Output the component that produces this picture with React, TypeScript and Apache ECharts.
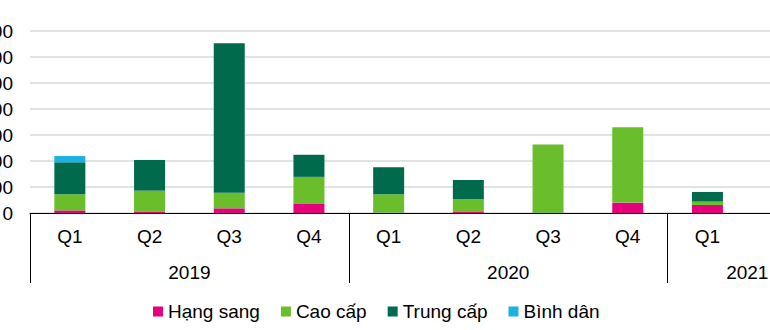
import React, { useEffect, useRef } from "react";
import * as echarts from "echarts";

const quarters = ["Q1", "Q2", "Q3", "Q4", "Q1", "Q2", "Q3", "Q4", "Q1", "Q2"];
const yearLabels: Record<number, string> = { 2: "2019", 6: "2020", 9: "2021" };
const hangSang = [100, 60, 180, 370, 10, 40, 0, 400, 310, 0];
const caoCap = [620, 800, 600, 1020, 710, 490, 2630, 2900, 130, 0];
const trungCap = [1230, 1180, 5750, 850, 1040, 740, 0, 0, 370, 0];
const binhDan = [240, 0, 0, 0, 0, 0, 0, 0, 0, 0];
const yTicks = { min: 0, max: 7000, interval: 1000 };

const FONT = "Arial, 'Liberation Sans', sans-serif";

export default function App() {
  const ref = useRef<HTMLDivElement>(null);
  useEffect(() => {
    if (!ref.current) return;
    const chart = echarts.init(ref.current, undefined, { renderer: "svg" });
    const seriesDefs = [
      { name: "Hạng sang", data: hangSang, color: "#E6007E" },
      { name: "Cao cấp", data: caoCap, color: "#6ABD2B" },
      { name: "Trung cấp", data: trungCap, color: "#006B4C" },
      { name: "Bình dân", data: binhDan, color: "#1BB1E0" },
    ];
    chart.setOption({
      animation: false,
      grid: { left: 30, top: 31, bottom: 117, right: -57, outerBoundsMode: "none", containLabel: false },
      legend: {
        left: 148,
        top: 297,
        itemWidth: 10,
        itemHeight: 10,
        itemGap: 21,
        icon: "rect",
        textStyle: { fontSize: 19, fontFamily: FONT, color: "#000" },
        data: seriesDefs.map((s) => s.name),
      },
      xAxis: [
        {
          type: "category",
          data: quarters,
          axisTick: { show: false },
          axisLine: { lineStyle: { color: "#000", width: 1 } },
          axisLabel: { fontSize: 19, fontFamily: FONT, color: "#000", margin: 14, interval: 0 },
        },
        {
          type: "value",
          min: 0,
          max: 10,
          interval: 4,
          position: "bottom",
          axisLine: { show: false },
          splitLine: { show: false },
          axisTick: { show: true, length: 70, lineStyle: { color: "#000", width: 1 } },
          axisLabel: { show: false },
        },
        {
          type: "value",
          min: 0,
          max: 10,
          interval: 1,
          position: "bottom",
          axisLine: { show: false },
          splitLine: { show: false },
          axisTick: { show: false },
          axisLabel: {
            fontSize: 19,
            fontFamily: FONT,
            color: "#000",
            margin: 50,
            formatter: (v: number) => yearLabels[v] || "",
          },
        },
      ],
      yAxis: {
        type: "value",
        min: yTicks.min,
        max: yTicks.max,
        interval: yTicks.interval,
        axisLine: { show: false },
        axisTick: { show: false },
        splitLine: { lineStyle: { color: "#D9D9D9", width: 1.5 } },
        axisLabel: { fontSize: 19, fontFamily: FONT, color: "#000", margin: 17 },
      },
      series: seriesDefs.map((s) => ({
        name: s.name,
        type: "bar",
        stack: "total",
        xAxisIndex: 0,
        barWidth: 31,
        data: s.data,
        itemStyle: { color: s.color },
      })),
    });
    return () => chart.dispose();
  }, []);
  return (
    <div
      ref={ref}
      style={{ position: "fixed", left: 0, top: 0, width: 770, height: 330, background: "#fff" }}
    />
  );
}
